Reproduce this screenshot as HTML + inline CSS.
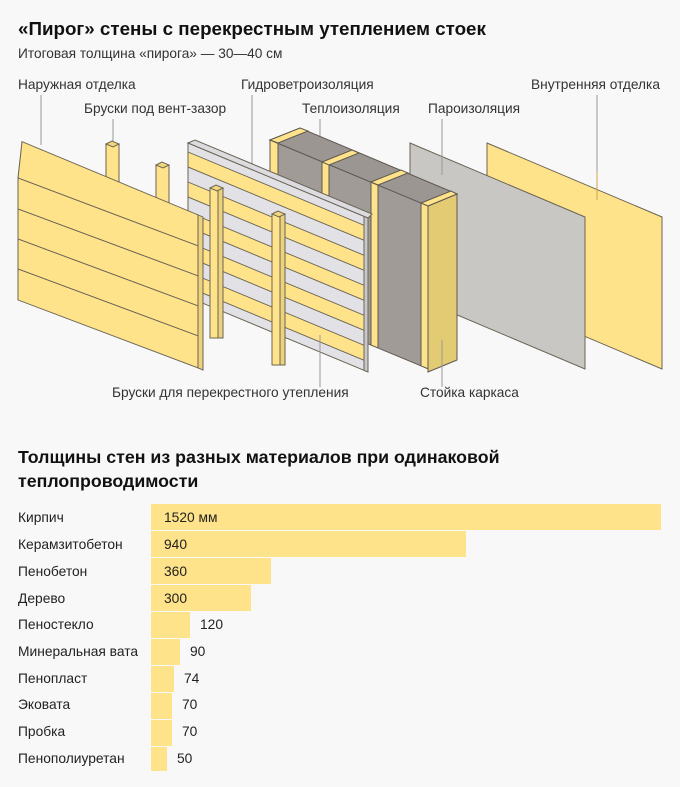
<!DOCTYPE html>
<html><head><meta charset="utf-8"><style>
body{margin:0;background:#f8f8f8;width:680px;height:787px;overflow:hidden;font-family:"Liberation Sans",sans-serif;color:#222}
svg{position:absolute;left:0;top:0}
</style></head><body>
<svg width="680" height="787" viewBox="0 0 680 787" font-family="Liberation Sans, sans-serif">
<rect width="680" height="787" fill="#f8f8f8"/>
<text x="18" y="35" font-size="18.8" font-weight="bold" fill="#111">«Пирог» стены с перекрестным утеплением стоек</text>
<text x="18" y="58" font-size="13.7" fill="#333">Итоговая толщина «пирога» — 30—40 см</text>
<g font-size="13.7" fill="#333">
<text x="18" y="89">Наружная отделка</text>
<text x="84" y="113">Бруски под вент-зазор</text>
<text x="241" y="89">Гидроветроизоляция</text>
<text x="302" y="113">Теплоизоляция</text>
<text x="428" y="113">Пароизоляция</text>
<text x="531" y="89">Внутренняя отделка</text>
<text x="112" y="397">Бруски для перекрестного утепления</text>
<text x="420" y="397">Стойка каркаса</text>
</g>
<g stroke="#999" stroke-width="1">
<line x1="41" y1="95" x2="41" y2="138"/>
<line x1="113" y1="119" x2="113" y2="142"/>
<line x1="252" y1="95" x2="252" y2="170"/>
<line x1="320" y1="119" x2="320" y2="150"/>
<line x1="442" y1="119" x2="442" y2="175"/>
<line x1="597" y1="95" x2="597" y2="200"/>
</g>
<polygon points="487,143 662,217 662,369 487,295" fill="#ffe38a" stroke="#6b6455" stroke-width="1"/>
<line x1="597" y1="172" x2="597" y2="200" stroke="#c9a84a"/>
<polygon points="410,143 585,217 585,369 410,295" fill="#c9c7c3" stroke="#6b6455" stroke-width="1"/>
<line x1="442" y1="156" x2="442" y2="175" stroke="#999"/>
<g transform="translate(270,0) skewY(22.6)" stroke="#5e5852" stroke-width="1">
<rect x="0" y="140" width="158" height="163" fill="#a19b97"/>
<rect x="0" y="140" width="8" height="163" fill="#ffe38a"/>
<rect x="52" y="140" width="7" height="163" fill="#ffe38a"/>
<rect x="101" y="140" width="7" height="163" fill="#ffe38a"/>
<rect x="151" y="140" width="7" height="163" fill="#ffe38a"/>
</g>
<polygon points="428,206 457,194 457,360 428,372" fill="#e3cb74" stroke="#5e5852"/>
<polygon points="270,140 300,128 457,194 428,206" fill="#9c9692" stroke="#5e5852"/>
<g fill="#ffe38a" stroke="#5e5852">
<polygon points="270,140 300,128 308,131 278,143"/>
<polygon points="322,162 352,150 359,153 329,165"/>
<polygon points="371,182 401,170 408,173 378,185"/>
<polygon points="421,203 451,191 457,194 428,206"/>
</g>
<line x1="442" y1="340" x2="442" y2="387" stroke="#999"/>
<g transform="translate(188,0) skewY(22.6)" stroke="#6b6455" stroke-width="1">
<rect x="0" y="143" width="180" height="154" fill="#ffe38a"/>
<rect x="0" y="143" width="180" height="9" fill="#e2e2e6"/>
<rect x="0" y="167" width="180" height="15" fill="#e2e2e6"/>
<rect x="0" y="197" width="180" height="15" fill="#e2e2e6"/>
<rect x="0" y="227" width="180" height="15" fill="#e2e2e6"/>
<rect x="0" y="257" width="180" height="15" fill="#e2e2e6"/>
<rect x="0" y="287" width="180" height="10" fill="#e2e2e6"/>
<rect x="176" y="143" width="4" height="154" fill="#c8c8cc"/>
</g>
<polygon points="188,143 195,140 372,214 368,218" fill="#dcdce0" stroke="#6b6455"/>
<line x1="320" y1="335" x2="320" y2="387" stroke="#999"/>
<g stroke="#6b6455" stroke-width="1">
<rect x="106" y="144" width="13" height="70" fill="#ffe38a"/>
<polygon points="106,144 112,141 119,144 113,147" fill="#f2d77a"/>
<rect x="156" y="165" width="13" height="70" fill="#ffe38a"/>
<polygon points="156,165 162,162 169,165 163,168" fill="#f2d77a"/>
</g>
<g transform="translate(18,0) skewY(22.6)" stroke="#6b6455" stroke-width="1">
<polygon points="4,140 180,140 180,171 0,178" fill="#ffe38a"/>
<polygon points="0,178 180,171 180,201 0,209" fill="#ffe38a"/>
<polygon points="0,209 180,201 180,231 0,239" fill="#ffe38a"/>
<polygon points="0,239 180,231 180,261 0,269" fill="#ffe38a"/>
<polygon points="0,269 180,261 180,293 0,300" fill="#ffe38a"/>
<rect x="180" y="140" width="5" height="153" fill="#ecd27a"/>
</g>
<line x1="41" y1="138" x2="41" y2="145" stroke="#999"/>
<g stroke="#6b6455" stroke-width="1">
<rect x="210" y="188" width="13" height="150" fill="#ffe38a"/>
<rect x="218" y="188" width="5" height="150" fill="#ecd27a"/>
<polygon points="210,188 216,185 223,188 217,191" fill="#f2d77a"/>
<rect x="272" y="214" width="13" height="151" fill="#ffe38a"/>
<rect x="280" y="214" width="5" height="151" fill="#ecd27a"/>
<polygon points="272,214 278,211 285,214 279,217" fill="#f2d77a"/>
</g>
<text x="18" y="463" font-size="17.8" font-weight="bold" fill="#111">Толщины стен из разных материалов при одинаковой</text>
<text x="18" y="487" font-size="17.8" font-weight="bold" fill="#111">теплопроводимости</text>
<g fill="#ffe38a">
<rect x="151" y="504" width="510" height="26"/>
<rect x="151" y="531" width="315" height="26"/>
<rect x="151" y="558" width="120" height="26"/>
<rect x="151" y="585" width="100" height="26"/>
<rect x="151" y="612" width="39" height="26"/>
<rect x="151" y="639" width="29" height="26"/>
<rect x="151" y="666" width="23" height="26"/>
<rect x="151" y="693" width="21" height="26"/>
<rect x="151" y="720" width="21" height="26"/>
<rect x="151" y="747" width="16" height="24"/>
</g>
<g font-size="13.8" fill="#222">
<text x="18" y="522">Кирпич</text><text x="164" y="522">1520 мм</text>
<text x="18" y="549">Керамзитобетон</text><text x="164" y="549">940</text>
<text x="18" y="576">Пенобетон</text><text x="164" y="576">360</text>
<text x="18" y="603">Дерево</text><text x="164" y="603">300</text>
<text x="18" y="629">Пеностекло</text><text x="200" y="629">120</text>
<text x="18" y="656">Минеральная вата</text><text x="190" y="656">90</text>
<text x="18" y="683">Пенопласт</text><text x="184" y="683">74</text>
<text x="18" y="709">Эковата</text><text x="182" y="709">70</text>
<text x="18" y="736">Пробка</text><text x="182" y="736">70</text>
<text x="18" y="763">Пенополиуретан</text><text x="177" y="763">50</text>
</g>
</svg>
</body></html>
